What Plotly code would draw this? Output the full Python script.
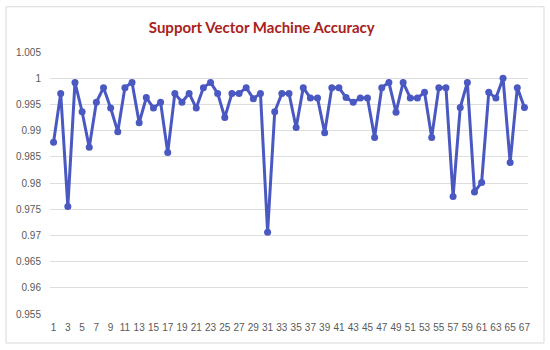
import plotly.graph_objects as go

# Data
runs = list(range(1, 68))
accuracy = [
    0.9878, 0.9971, 0.9755, 0.9992, 0.9936, 0.9868, 0.9954, 0.9982, 0.9943, 0.9898,
    0.9982, 0.9992, 0.9915, 0.9963, 0.9943, 0.9954, 0.9858, 0.9971, 0.9954, 0.9971,
    0.9943, 0.9982, 0.9992, 0.9971, 0.9925, 0.9971, 0.9971, 0.9982, 0.9961, 0.9971,
    0.9706, 0.9936, 0.9971, 0.9971, 0.9906, 0.9982, 0.9962, 0.9962, 0.9896, 0.9982,
    0.9982, 0.9963, 0.9954, 0.9962, 0.9962, 0.9887, 0.9982, 0.9992, 0.9935, 0.9992,
    0.9962, 0.9962, 0.9973, 0.9887, 0.9982, 0.9982, 0.9774, 0.9944, 0.9992, 0.9783,
    0.9801, 0.9973, 0.9962, 1.0000, 0.9839, 0.9982, 0.9944,
]
y_ticks = [0.955, 0.96, 0.965, 0.97, 0.975, 0.98, 0.985, 0.99, 0.995, 1.0, 1.005]
y_tick_text = ["0.955", "0.96", "0.965", "0.97", "0.975", "0.98", "0.985", "0.99", "0.995", "1", "1.005"]
x_ticks = list(range(1, 68, 2))

line_color = "#4A58C2"

fig = go.Figure(
    go.Scatter(
        x=runs,
        y=accuracy,
        mode="lines+markers",
        line=dict(color=line_color, width=3),
        marker=dict(color=line_color, size=7),
        showlegend=False,
    )
)

fig.update_layout(
    width=550,
    height=350,
    margin=dict(l=50, r=22, t=52, b=36),
    paper_bgcolor="white",
    plot_bgcolor="white",
    font=dict(family="Liberation Sans, Arial, sans-serif", size=10, color="#595959"),
    title=dict(
        text="<b>Support Vector Machine Accuracy</b>",
        x=0.476,
        xanchor="center",
        y=0.92,
        yanchor="middle",
        font=dict(family="Lato, Liberation Sans, sans-serif", size=15, color="#A8221B"),
    ),
    xaxis=dict(
        range=[0.5, 67.5],
        tickmode="array",
        tickvals=x_ticks,
        ticktext=[str(v) for v in x_ticks],
        showgrid=False,
        zeroline=False,
        showline=False,
        ticks="",
        ticklabelstandoff=6,
        fixedrange=True,
    ),
    yaxis=dict(
        range=[0.955, 1.005],
        tickmode="array",
        tickvals=y_ticks,
        ticktext=y_tick_text,
        showgrid=True,
        gridcolor="#DEDEDE",
        gridwidth=1,
        zeroline=False,
        showline=False,
        ticks="",
        ticklabelstandoff=8,
        fixedrange=True,
    ),
    shapes=[
        dict(
            type="rect",
            xref="paper",
            yref="paper",
            x0=-0.092,
            x1=1.0335,
            y0=-0.1108,
            y1=1.1727,
            line=dict(color="#D9D9D9", width=1),
            fillcolor="rgba(0,0,0,0)",
            layer="below",
        )
    ],
)

fig.write_html(
    "out.html",
    config={"displayModeBar": False},
    post_script="document.body.style.margin='0';document.body.style.overflow='hidden';",
)
